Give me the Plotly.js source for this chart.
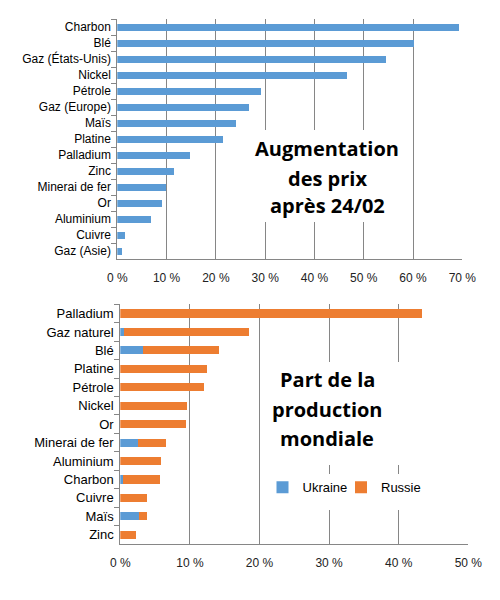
<!DOCTYPE html>
<html><head><meta charset="utf-8">
<script src="https://cdn.plot.ly/plotly-3.0.1.min.js"></script>
<style>body{margin:0;padding:0;background:#fff}#chart{width:500px;height:600px}</style>
</head><body><div id="chart"></div>
<script>
// Top chart: price increase after 24/02 (%)
const priceCats = ["Charbon","Blé","Gaz (États-Unis)","Nickel","Pétrole","Gaz (Europe)","Maïs","Platine","Palladium","Zinc","Minerai de fer","Or","Aluminium","Cuivre","Gaz (Asie)"];
const priceVals = [69.3,60.1,54.5,46.6,29.1,26.7,24.1,21.4,14.7,11.5,9.9,9.1,6.8,1.5,0.9];

// Bottom chart: share of world production (%)
const prodCats = ["Palladium","Gaz naturel","Blé","Platine","Pétrole","Nickel","Or","Minerai de fer","Aluminium","Charbon","Cuivre","Maïs","Zinc"];
const ukraineVals = [0,0.5,3.3,0,0,0,0,2.5,0,0.4,0,2.7,0];
const russiaVals = [43.3,18.0,10.9,12.5,12.0,9.6,9.4,4.1,5.8,5.3,3.8,1.1,2.25];

// Text blocks
const topTitle = ["Augmentation","des prix","après 24/02"];
const bottomTitle = ["Part de la","production","mondiale"];

const BLUE = "#5B9BD5", ORANGE = "#ED7D31", GRID = "#868686";
const FONT = "Liberation Sans, Arial, sans-serif";
const TITLEFONT = "Open Sans, Noto Sans, sans-serif";

const traces = [
  {type:"bar", orientation:"h", y:priceCats, x:priceVals, marker:{color:BLUE}, xaxis:"x", yaxis:"y", showlegend:false},
  {type:"bar", orientation:"h", y:prodCats, x:ukraineVals, name:"Ukraine", marker:{color:BLUE}, xaxis:"x2", yaxis:"y2", legend:"legend"},
  {type:"bar", orientation:"h", y:prodCats, x:russiaVals, name:"Russie", marker:{color:ORANGE}, xaxis:"x2", yaxis:"y2", legend:"legend2"}
];

const xcommon = {showgrid:true, gridcolor:GRID, gridwidth:1, zeroline:false, showline:true, linecolor:GRID, linewidth:1, ticks:"", ticksuffix:" %", dtick:10, ticklabelstandoff:8, tickfont:{family:FONT,size:12,color:"#222"}, fixedrange:true};
const ycommon = {type:"category", autorange:"reversed", showline:true, linecolor:GRID, linewidth:1, ticks:"outside", tickson:"boundaries", ticklen:5, tickcolor:GRID, showgrid:false, ticklabelstandoff:3, fixedrange:true};

const topY = [0.7533, 0.7033, 0.6567];
const botY = [0.3667, 0.3183, 0.2700];
const annotations = [];
topTitle.forEach((t,i)=>annotations.push({xref:"paper", yref:"paper", x:0.654, y:topY[i], xanchor:"center", yanchor:"middle", text:"<b>"+t+"</b>", showarrow:false, font:{family:TITLEFONT, size:20, color:"#000"}}));
bottomTitle.forEach((t,i)=>annotations.push({xref:"paper", yref:"paper", x:0.654, y:botY[i], xanchor:"center", yanchor:"middle", text:"<b>"+t+"</b>", showarrow:false, font:{family:TITLEFONT, size:20, color:"#000"}}));

const legendCommon = {orientation:"h", y:0.188, xanchor:"left", yanchor:"middle", bgcolor:"rgba(255,255,255,0)", font:{family:FONT,size:13,color:"#000"}, itemwidth:30};

const layout = {
  width:500, height:600,
  margin:{l:0,r:0,t:0,b:0},
  paper_bgcolor:"#fff", plot_bgcolor:"#fff",
  barmode:"stack", bargap:0.56,
  font:{family:FONT, color:"#000"},
  xaxis: Object.assign({}, xcommon, {domain:[0.2346,0.9246], range:[0,70], anchor:"y"}),
  yaxis: Object.assign({}, ycommon, {domain:[0.5683,0.9683], anchor:"x", tickfont:{family:FONT,size:12,color:"#000"}}),
  xaxis2: Object.assign({}, xcommon, {domain:[0.2406,0.9366], range:[0,50], anchor:"y2"}),
  yaxis2: Object.assign({}, ycommon, {domain:[0.0933,0.4928], anchor:"x2", tickfont:{family:FONT,size:13,color:"#000"}}),
  legend: Object.assign({}, legendCommon, {x:0.525}),
  legend2: Object.assign({}, legendCommon, {x:0.682}),
  shapes:[
    {type:"rect", xref:"paper", yref:"paper", x0:0.51, x1:0.796, y0:0.63, y1:0.7833, fillcolor:"#fff", line:{width:0}, layer:"above"},
    {type:"rect", xref:"paper", yref:"paper", x0:0.53, x1:0.82, y0:0.225, y1:0.3967, fillcolor:"#fff", line:{width:0}, layer:"above"},
    {type:"rect", xref:"paper", yref:"paper", x0:0.55, x1:0.84, y0:0.15, y1:0.21, fillcolor:"#fff", line:{width:0}, layer:"above"}
  ],
  annotations: annotations
};

Plotly.newPlot("chart", traces, layout, {displayModeBar:false, staticPlot:true});
</script>
</body></html>
